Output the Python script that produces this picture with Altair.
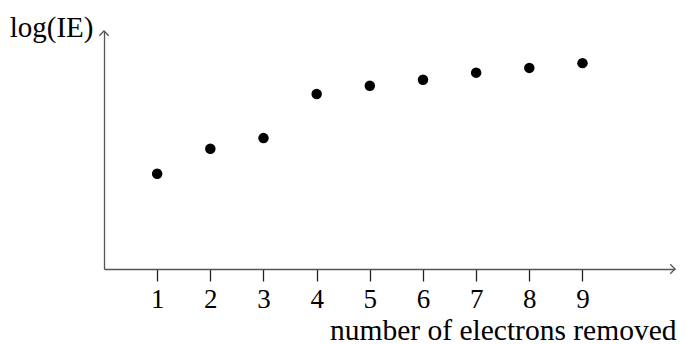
import altair as alt
import pandas as pd

# data
electrons = [1, 2, 3, 4, 5, 6, 7, 8, 9]
log_ie = [4.0, 5.05, 5.5, 7.35, 7.7, 7.95, 8.25, 8.45, 8.65]
tick_values = [1, 2, 3, 4, 5, 6, 7, 8, 9]
x_title = "number of electrons removed"
y_title = "log(IE)"

W = 571
H = 238
FONT = "Liberation Serif"
AXIS_COLOR = "#555555"

df = pd.DataFrame({"n": electrons, "v": log_ie})

x_enc = alt.X(
    "n:Q",
    scale=alt.Scale(domain=[0, 10.74], nice=False, zero=False),
    axis=alt.Axis(
        values=tick_values,
        format="d",
        title=x_title,
        grid=False,
        domainColor=AXIS_COLOR,
        domainWidth=1.3,
        tickColor="#222222",
        tickWidth=1.3,
        tickSize=12,
        labelFontSize=27,
        labelColor="black",
        labelFont=FONT,
        labelPadding=5,
        titleFont=FONT,
        titleFontSize=29.5,
        titleFontWeight="normal",
        titleColor="black",
        titleAlign="right",
        titleBaseline="alphabetic",
        titleX=572,
        titleY=70,
    ),
)
y_enc = alt.Y(
    "v:Q",
    scale=alt.Scale(domain=[0, 10], nice=False),
    axis=alt.Axis(
        title=y_title,
        labels=False,
        ticks=False,
        grid=False,
        domainColor=AXIS_COLOR,
        domainWidth=1.3,
        titleFont=FONT,
        titleFontSize=29,
        titleFontWeight="normal",
        titleColor="black",
        titleAngle=0,
        titleAlign="right",
        titleBaseline="alphabetic",
        titleX=-11,
        titleY=5,
    ),
)

points = alt.Chart(df).mark_point(filled=True, color="black", size=110, opacity=1).encode(
    x=x_enc, y=y_enc
)

x_arrow = alt.Chart(df.head(1)).mark_point(
    shape="M -1 -1 L 0 0 L -1 1", filled=False, stroke=AXIS_COLOR, strokeWidth=1.3, size=90, opacity=1
).encode(x=alt.value(W), y=alt.value(H))

y_arrow = alt.Chart(df.head(1)).mark_point(
    shape="M -1 1 L 0 0 L 1 1", filled=False, stroke=AXIS_COLOR, strokeWidth=1.3, size=90, opacity=1
).encode(x=alt.value(0), y=alt.value(0))

chart = (
    alt.layer(points, x_arrow, y_arrow)
    .properties(
        width=W,
        height=H,
        autosize=alt.AutoSizeParams(type="none"),
        padding={"left": 96, "top": 23, "right": 2, "bottom": 75},
    )
    .configure(font=FONT, background="white")
    .configure_view(strokeWidth=0, stroke="transparent")
)

chart.save("out.html", embed_options={"renderer": "svg", "actions": False})
